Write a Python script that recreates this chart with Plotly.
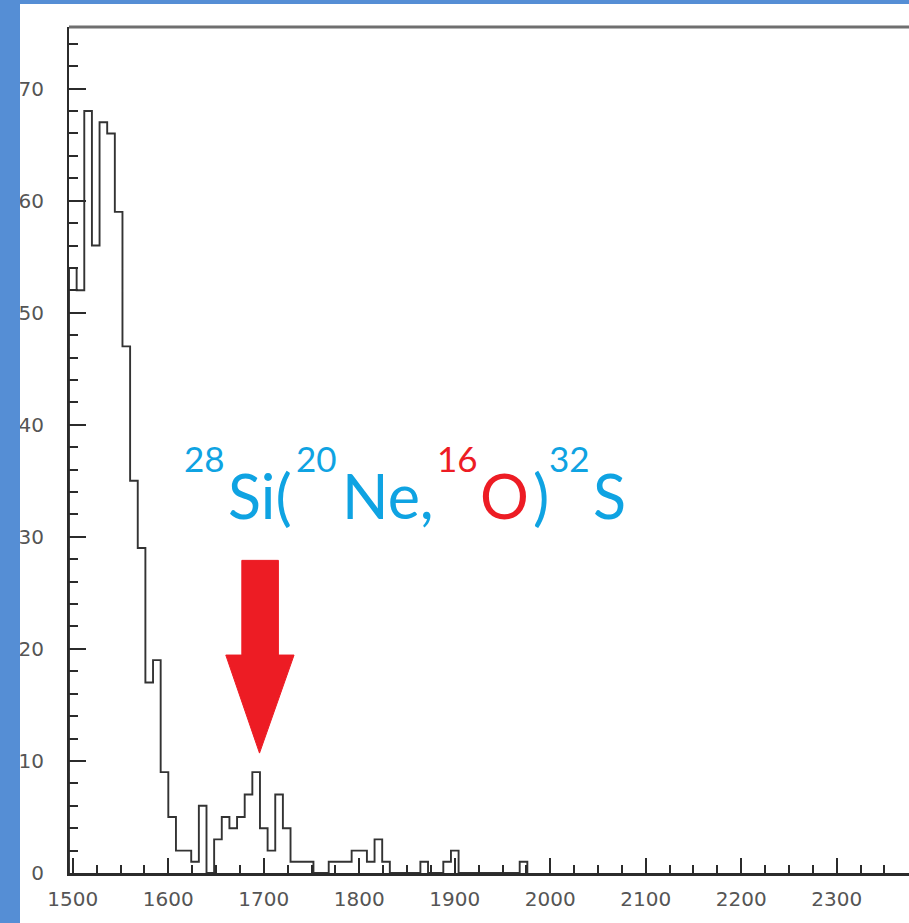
import plotly.graph_objects as go

# Histogram: 8-channel bins starting at channel 1496
BIN_START = 1496
BIN_WIDTH = 8
counts = [
    54, 52, 68, 56, 67, 66, 59, 47, 35, 29,   # 1496-1575
    17, 19, 9, 5, 2, 2, 1, 6, 0, 3,           # 1576-1655
    5, 4, 5, 7, 9, 4, 2, 7, 4, 1,             # 1656-1735
    1, 1, 0, 0, 1, 1, 1, 2, 2, 1,             # 1736-1815
    3, 1, 0, 0, 0, 0, 1, 0, 0, 1,             # 1816-1895
    2, 0, 0, 0, 0, 0, 0, 0, 0, 1,             # 1896-1975
]

x_ticks = [1500, 1600, 1700, 1800, 1900, 2000, 2100, 2200, 2300]
y_ticks = [0, 10, 20, 30, 40, 50, 60, 70]

edges = [BIN_START + i * BIN_WIDTH for i in range(len(counts) + 1)]
step_x = [edges[0]] + edges[:-1] + [edges[-1]]
step_y = [0] + counts + [0]

W, H = 909, 923
ML, MR, MT, MB = 69, 0, 27, 50
PW, PH = W - ML - MR, H - MT - MB

BLUE = "#558ED5"
CYAN = "#0FA3E2"
RED = "#ED1C24"
AXIS = "#2b2b2b"


def px(xp):
    return (xp - ML) / PW


def py(yp):
    return (H - MB - yp) / PH


fig = go.Figure()
fig.add_trace(go.Scatter(
    x=step_x, y=step_y, mode="lines", line_shape="hv",
    line=dict(color="#333333", width=1.9), hoverinfo="skip",
    showlegend=False,
))

tick_font = dict(family="DejaVu Sans", size=20, color="#555555")

fig.update_xaxes(
    range=[1496, 2375.7], tickmode="array", tickvals=x_ticks,
    ticktext=[str(v) for v in x_ticks],
    ticks="inside", ticklen=15, tickwidth=1.5, tickcolor=AXIS,
    minor=dict(dtick=25, tick0=1500, ticks="inside", ticklen=8,
               tickwidth=1.5, tickcolor=AXIS, showgrid=False),
    showline=True, linecolor=AXIS, linewidth=2.5, mirror=False,
    showgrid=False, zeroline=False, tickfont=tick_font,
    ticklabelstandoff=6,
)
fig.update_yaxes(
    range=[0, 75.5], tickmode="array", tickvals=y_ticks,
    ticktext=[str(v) for v in y_ticks],
    ticks="inside", ticklen=17, tickwidth=1.5, tickcolor=AXIS,
    minor=dict(dtick=2, tick0=0, ticks="inside", ticklen=9,
               tickwidth=1.5, tickcolor=AXIS, showgrid=False),
    showline=True, linecolor=AXIS, linewidth=2, mirror=False,
    showgrid=False, zeroline=False, tickfont=tick_font,
    ticklabelstandoff=19,
)

shapes = [
    # slide border strips
    dict(type="rect", xref="paper", yref="paper", x0=px(-5), x1=px(20),
         y0=py(H + 5), y1=py(-5), fillcolor=BLUE, line_width=0, layer="above"),
    dict(type="rect", xref="paper", yref="paper", x0=px(-5), x1=px(W + 5),
         y0=py(4), y1=py(-5), fillcolor=BLUE, line_width=0, layer="above"),
    # top frame line
    dict(type="line", xref="paper", yref="paper", x0=0, x1=1, y0=1, y1=1,
         line=dict(color="#6f6f6f", width=3)),
]

# downward arrow marking the 32S peak (data coordinates)
tip_x, tip_y = 1695.5, 10.7
shaft_l, shaft_r, shaft_top = 1677.0, 1715.3, 27.9
head_l, head_r, head_base = 1660.2, 1731.7, 19.45
arrow_path = (
    f"M {shaft_l} {shaft_top} L {shaft_r} {shaft_top} L {shaft_r} {head_base} "
    f"L {head_r} {head_base} L {tip_x} {tip_y} L {head_l} {head_base} "
    f"L {shaft_l} {head_base} Z"
)
shapes.append(dict(type="path", xref="x", yref="y", path=arrow_path,
                   fillcolor=RED, line=dict(color=RED, width=1)))
fig.update_layout(shapes=shapes)

# reaction label 28Si(20Ne,16O)32S built from pieces
MAIN_SIZE = 61
SUP_SIZE = 35
FAM = "Lato"
pieces = [
    ("28", 183, True, CYAN),
    ("Si(", 227, False, CYAN),
    ("20", 295, True, CYAN),
    ("Ne,", 341, False, CYAN),
    ("16", 436, True, RED),
    ("O", 479, False, RED),
    (")", 532, False, CYAN),
    ("32", 548, True, CYAN),
    ("S", 592, False, CYAN),
]
MAIN_BASE, SUP_BASE = 518, 471
for txt, xp, sup, col in pieces:
    size = SUP_SIZE if sup else MAIN_SIZE
    base = SUP_BASE if sup else MAIN_BASE
    fig.add_annotation(
        text=txt, xref="paper", yref="paper", x=px(xp), y=py(base),
        xanchor="left", yanchor="bottom", showarrow=False,
        font=dict(family=FAM, size=size, color=col),
        borderpad=0, yshift=-0.25 * size,
    )

fig.update_layout(
    width=W, height=H, margin=dict(l=ML, r=MR, t=MT, b=MB),
    paper_bgcolor="white", plot_bgcolor="white",
    showlegend=False,
)

fig.write_html("out.html")
